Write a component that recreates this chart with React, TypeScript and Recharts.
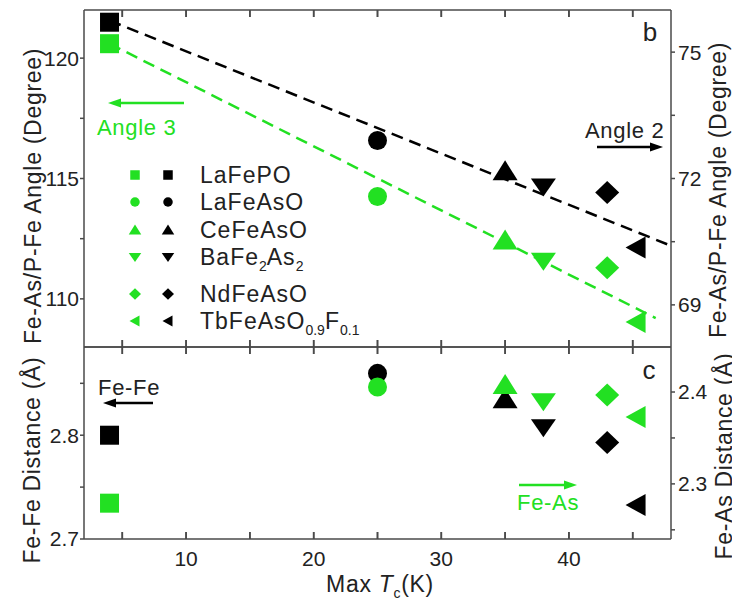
import React from "react";
import { ComposedChart, ReferenceLine, Scatter, XAxis, YAxis } from "recharts";

// compounds, in legend order
const compounds = ["LaFePO", "LaFeAsO", "CeFeAsO", "BaFe2As2", "NdFeAsO", "TbFeAsO0.9F0.1"];
const maxTc = [4, 25, 35, 38, 43, 45.3];

// panel b: angles (degree)
const angle2 = [75.71, 72.9, 72.17, 71.81, 71.67, 70.36]; // black, right axis
const angle3 = [120.6, 114.25, 112.42, 111.58, 111.29, 109.04]; // green, left axis

// panel c: distances (Å)
const feFe = [2.8, 2.8596, 2.8346, 2.8077, 2.793, 2.7327]; // black, left axis
const feAs = [2.279, 2.4054, 2.4076, 2.39, 2.3967, 2.3728]; // green, right axis

// linear fits (end points)
const fit2X = [4, 47.7];
const fit2Y = [75.75, 70.44];
const fit3X = [4, 46.8];
const fit3Y = [120.6, 109.2];

// axes
const xDomain = [2, 48];
const xTicks = [5, 10, 15, 20, 25, 30, 35, 40, 45];
const xLabelTicks = [10, 20, 30, 40];
const bLeftDomain = [108, 122];
const bRightDomain = [68, 76];
const cLeftDomain = [2.7, 2.885];
const cRightDomain = [2.24, 2.449];
const bLeftTicks = [110, 112.5, 115, 117.5, 120];
const bRightTicks = [69, 70.5, 72, 73.5, 75];
const cLeftTicks = [2.7, 2.75, 2.8, 2.85];
const cRightTicks = [2.25, 2.3, 2.35, 2.4];

const GREEN = "#22e022";
const BLACK = "#000";
const FRAME = "#4a4a4a";
const TEXT = "#222";
const FONT = '"Liberation Sans", Arial, Helvetica, sans-serif';

// plot heights in px, used to turn an inward tick length into data units
const B_PLOT_H = 337;
const C_PLOT_H = 192;
const TICK_PX = 7;

type Kind = "square" | "circle" | "up" | "down" | "diamond" | "left";
const kinds: Kind[] = ["square", "circle", "up", "down", "diamond", "left"];

function Mark({ kind, cx, cy, s = 1, fill }: { kind: Kind; cx: number; cy: number; s?: number; fill: string }) {
  if (cx == null || cy == null || isNaN(cx) || isNaN(cy)) return null;
  const p = (pts: number[][]) => pts.map(([a, b]) => `${cx + a * s},${cy + b * s}`).join(" ");
  switch (kind) {
    case "square":
      return <rect x={cx - 9.5 * s} y={cy - 9.5 * s} width={19 * s} height={19 * s} fill={fill} />;
    case "circle":
      return <circle cx={cx} cy={cy} r={9.5 * s} fill={fill} />;
    case "up":
      return <polygon points={p([[0, -11], [12.5, 9], [-12.5, 9]])} fill={fill} />;
    case "down":
      return <polygon points={p([[0, 10], [12.5, -8], [-12.5, -8]])} fill={fill} />;
    case "diamond":
      return <polygon points={p([[0, -11.5], [12, 0], [0, 11.5], [-12, 0]])} fill={fill} />;
    case "left":
      return <polygon points={p([[-11, 0], [9, -11], [9, 11]])} fill={fill} />;
  }
  return null;
}

const isOneOf = (vals: number[], v: number) => vals.some((t) => Math.abs(t - v) < 1e-6);

// tick on a horizontal frame line (dir 1 points down, -1 up), with optional number label
const frameTick = (dir: number, labelled: number[] = []) => (props: any) => {
  const { x, y, payload } = props;
  const v = payload?.value;
  if (x == null || y == null) return <g />;
  return (
    <g>
      <path d={`M${x},${y}V${y + dir * TICK_PX}`} stroke={FRAME} strokeWidth={1.6} fill="none" />
      {isOneOf(labelled, v) && (
        <text x={x} y={y + 26.5} textAnchor="middle" fontSize={21} fill={TEXT} fontFamily={FONT}>
          {v}
        </text>
      )}
    </g>
  );
};

// the same inward ticks, drawn as short segments in data space
function frameTicks(key: string, domain: number[], plotH: number) {
  const d = ((domain[1] - domain[0]) * TICK_PX) / plotH;
  return xTicks.flatMap((t) => [
    <ReferenceLine key={key + "t" + t} xAxisId="b" yAxisId="L" ifOverflow="visible"
      segment={[{ x: t, y: domain[1] }, { x: t, y: domain[1] - d }]} stroke={FRAME} strokeWidth={1.6} />,
    <ReferenceLine key={key + "b" + t} xAxisId="b" yAxisId="L" ifOverflow="visible"
      segment={[{ x: t, y: domain[0] }, { x: t, y: domain[0] + d }]} stroke={FRAME} strokeWidth={1.6} />,
  ]);
}

const frameLine = { stroke: FRAME, strokeWidth: 1.5 };
const tickStyle = { fontSize: 21, fill: TEXT, fontFamily: FONT };

const only = (vals: number[]) => (v: number) => (isOneOf(vals, v) ? String(v) : "");

function Arrow({ x1, x2, y, color }: { x1: number; x2: number; y: number; color: string }) {
  const dir = x2 > x1 ? 1 : -1;
  return (
    <g>
      <line x1={x1} y1={y} x2={x2 - dir * 10} y2={y} stroke={color} strokeWidth={2.5} />
      <polygon points={`${x2},${y} ${x2 - dir * 13},${y - 4.5} ${x2 - dir * 13},${y + 4.5}`} fill={color} />
    </g>
  );
}

function LegendLabel({ name, x, y }: { name: string; x: number; y: number }) {
  const base = { x, y, fontSize: 23, letterSpacing: 1, fill: TEXT, fontFamily: FONT };
  const sub = { fontSize: 14, letterSpacing: 0 };
  if (name === "BaFe2As2")
    return (
      <text {...base}>
        BaFe<tspan {...sub} dy={6}>2</tspan>
        <tspan dy={-6} letterSpacing={1}>As</tspan>
        <tspan {...sub} dy={6}>2</tspan>
      </text>
    );
  if (name === "TbFeAsO0.9F0.1")
    return (
      <text {...base}>
        TbFeAsO<tspan {...sub} dy={6}>0.9</tspan>
        <tspan dy={-6} letterSpacing={1}>F</tspan>
        <tspan {...sub} dy={6}>0.1</tspan>
      </text>
    );
  return <text {...base}>{name}</text>;
}

const legendRows = [167, 194, 222, 249, 286, 313];

export default function App() {
  const yAxisCommon = {
    type: "number" as const,
    dataKey: "y",
    width: 40,
    allowDataOverflow: true,
    interval: 0 as const,
    axisLine: frameLine,
    tickLine: frameLine,
    tick: tickStyle,
    tickSize: 4,
  };
  const xFrame = {
    type: "number" as const,
    dataKey: "x",
    domain: xDomain,
    allowDataOverflow: true,
    ticks: xTicks,
    interval: 0 as const,
    tickSize: 0,
    tickMargin: 0,
    height: 6,
    tickLine: false,
    axisLine: frameLine,
  };
  const titleProps = { textAnchor: "middle" as const, dominantBaseline: "central" as const, fontSize: 23, letterSpacing: 0.7, fill: TEXT };
  const noteProps = { fontSize: 22, letterSpacing: 0.7 };

  return (
    <div style={{ position: "relative", width: 724, height: 597, background: "#fff" }}>
      {/* panel b */}
      <div style={{ position: "absolute", left: 0, top: -4 }}>
        <ComposedChart width={724} height={349} margin={{ top: 0, right: 21, bottom: 0, left: 36 }}>
          <XAxis xAxisId="t" orientation="top" {...xFrame} tick={frameTick(1)} />
          <XAxis xAxisId="b" orientation="bottom" {...xFrame} tick={frameTick(-1)} />
          <YAxis yAxisId="L" orientation="left" domain={bLeftDomain} ticks={bLeftTicks} tickFormatter={only([110, 115, 120])} tickMargin={1} {...yAxisCommon} />
          <YAxis yAxisId="R" orientation="right" domain={bRightDomain} ticks={bRightTicks} tickFormatter={only([69, 72, 75])} tickMargin={3} {...yAxisCommon} />
          {frameTicks("b", bLeftDomain, B_PLOT_H)}
          <ReferenceLine xAxisId="b" yAxisId="L" segment={[{ x: fit3X[0], y: fit3Y[0] }, { x: fit3X[1], y: fit3Y[1] }]} stroke={GREEN} strokeWidth={2.5} strokeDasharray="12 7" />
          <ReferenceLine xAxisId="b" yAxisId="R" segment={[{ x: fit2X[0], y: fit2Y[0] }, { x: fit2X[1], y: fit2Y[1] }]} stroke={BLACK} strokeWidth={2.5} strokeDasharray="12 7" />
          {compounds.map((c, i) => (
            <Scatter key={"a2" + c} name={c} xAxisId="b" yAxisId="R" data={[{ x: maxTc[i], y: angle2[i] }]} isAnimationActive={false}
              shape={(p: any) => <Mark kind={kinds[i]} cx={p.cx} cy={p.cy} fill={BLACK} />} />
          ))}
          {compounds.map((c, i) => (
            <Scatter key={"a3" + c} name={c} xAxisId="b" yAxisId="L" data={[{ x: maxTc[i], y: angle3[i] }]} isAnimationActive={false}
              shape={(p: any) => <Mark kind={kinds[i]} cx={p.cx} cy={p.cy} fill={GREEN} />} />
          ))}
        </ComposedChart>
      </div>

      {/* panel c */}
      <div style={{ position: "absolute", left: 0, top: 333 }}>
        <ComposedChart width={724} height={232} margin={{ top: 0, right: 21, bottom: 4, left: 36 }}>
          <XAxis xAxisId="t" orientation="top" {...xFrame} tick={frameTick(1)} />
          <XAxis xAxisId="b" orientation="bottom" {...xFrame} height={30} tick={frameTick(-1, xLabelTicks)} />
          <YAxis yAxisId="L" orientation="left" domain={cLeftDomain} ticks={cLeftTicks} tickFormatter={only([2.7, 2.8])} tickMargin={1} {...yAxisCommon} />
          <YAxis yAxisId="R" orientation="right" domain={cRightDomain} ticks={cRightTicks} tickFormatter={only([2.3, 2.4])} tickMargin={3} {...yAxisCommon} />
          {frameTicks("c", cLeftDomain, C_PLOT_H)}
          {compounds.map((c, i) => (
            <Scatter key={"ff" + c} name={c} xAxisId="b" yAxisId="L" data={[{ x: maxTc[i], y: feFe[i] }]} isAnimationActive={false}
              shape={(p: any) => <Mark kind={kinds[i]} cx={p.cx} cy={p.cy} fill={BLACK} />} />
          ))}
          {compounds.map((c, i) => (
            <Scatter key={"fa" + c} name={c} xAxisId="b" yAxisId="R" data={[{ x: maxTc[i], y: feAs[i] }]} isAnimationActive={false}
              shape={(p: any) => <Mark kind={kinds[i]} cx={p.cx} cy={p.cy} fill={GREEN} />} />
          ))}
        </ComposedChart>
      </div>

      {/* titles, legend and annotations */}
      <svg width={724} height={597} style={{ position: "absolute", left: 0, top: 0, overflow: "visible", pointerEvents: "none" }} fontFamily={FONT}>
        <text transform="translate(25,188) rotate(-90)" {...titleProps}>Fe-As/P-Fe Angle (Degree)</text>
        <text transform="translate(710,182) rotate(-90)" {...titleProps}>Fe-As/P-Fe Angle (Degree)</text>
        <text transform="translate(24,452) rotate(-90)" {...titleProps}>Fe-Fe Distance (Å)</text>
        <text transform="translate(716,448) rotate(-90)" {...titleProps}>Fe-As Distance (Å)</text>
        <text x={372} y={584} textAnchor="middle" fontSize={23} letterSpacing={0.7} fill={TEXT}>
          Max <tspan fontStyle="italic">T</tspan>
          <tspan fontSize={14} dy={6}>c</tspan>
          <tspan dy={-6}>(K)</tspan>
        </text>

        <text x={642} y={33} textAnchor="middle" fontSize={26} fill={TEXT}>b</text>
        <text x={641} y={371} textAnchor="middle" fontSize={26} fill={TEXT}>c</text>

        <text x={89} y={127} {...noteProps} fill={GREEN}>Angle 3</text>
        <Arrow x1={176} x2={100} y={95} color={GREEN} />
        <text x={577} y={130} {...noteProps} fill={TEXT}>Angle 2</text>
        <Arrow x1={589} x2={655} y={139} color={BLACK} />
        <text x={90} y={387} {...noteProps} fill={TEXT}>Fe-Fe</text>
        <Arrow x1={145} x2={95} y={395} color={BLACK} />
        <text x={509} y={502} {...noteProps} fill={GREEN}>Fe-As</text>
        <Arrow x1={511} x2={569} y={477} color={GREEN} />

        {compounds.map((c, i) => (
          <g key={"lg" + c}>
            <Mark kind={kinds[i]} cx={127} cy={legendRows[i]} s={0.5} fill={GREEN} />
            <Mark kind={kinds[i]} cx={160} cy={legendRows[i]} s={0.5} fill={BLACK} />
            <LegendLabel name={c} x={192} y={legendRows[i] + 8} />
          </g>
        ))}
      </svg>
    </div>
  );
}
